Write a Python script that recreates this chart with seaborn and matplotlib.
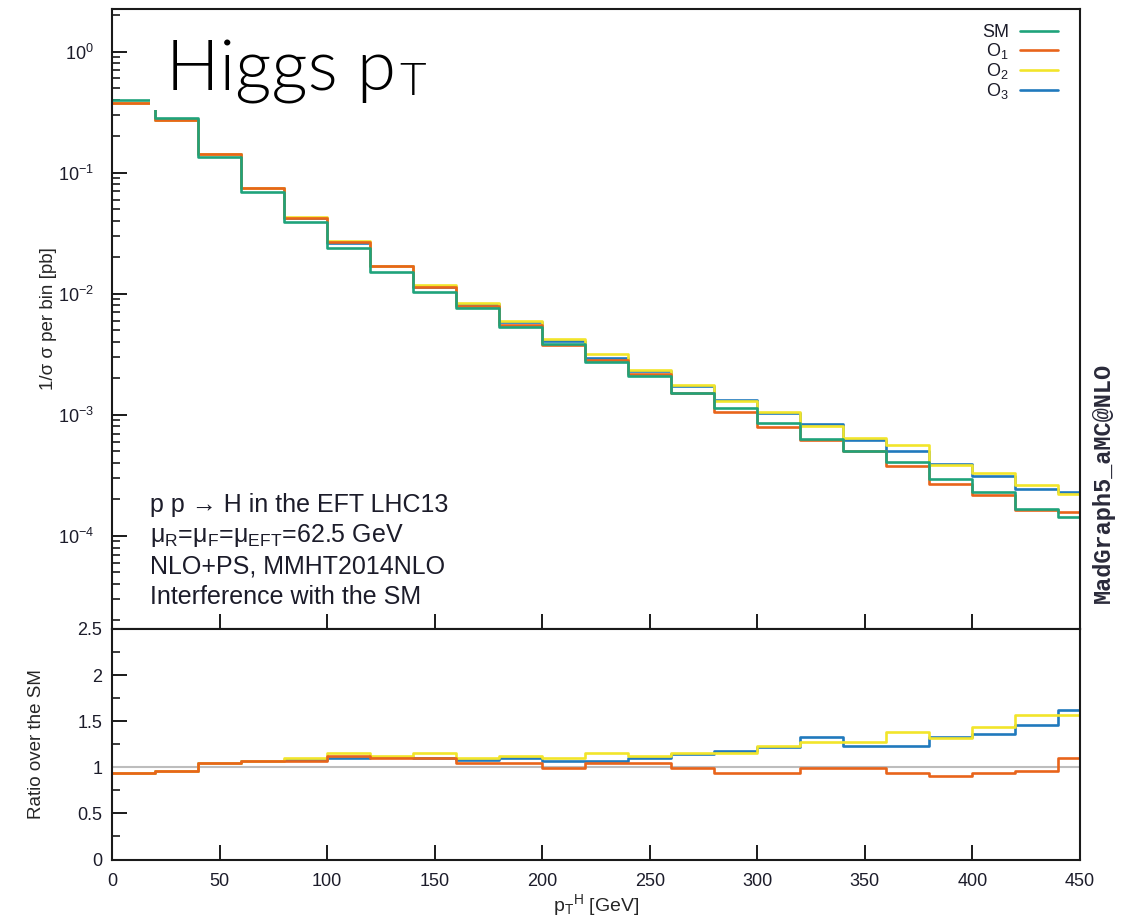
import numpy as np
import pandas as pd
import seaborn as sns
import matplotlib.pyplot as plt
from matplotlib.lines import Line2D
from matplotlib.patches import Rectangle
from matplotlib.ticker import MultipleLocator, LogLocator, NullFormatter, NullLocator, FormatStrFormatter

# Higgs pT binning [GeV]
bin_width = 20
bin_range = (0, 460)
bin_centers = np.arange(10, 460, 20)

# 1/sigma per bin, SM prediction
sm = [0.399, 0.283, 0.1356, 0.0697, 0.0394, 0.0237, 0.0152, 0.01027, 0.00757, 0.00527,
      0.00382, 0.00274, 0.00209, 0.00152, 0.00113, 0.00085, 0.000626, 0.000504, 0.000404,
      0.000294, 0.000231, 0.000168, 0.000142]

# ratio over the SM for each operator
ratio_o1 = [0.935, 0.964, 1.043, 1.072, 1.072, 1.127, 1.105, 1.105, 1.043, 1.043, 0.989, 1.043,
            1.043, 0.989, 0.935, 0.935, 0.996, 0.996, 0.935, 0.909, 0.935, 0.964, 1.098]
ratio_o2 = [0.935, 0.964, 1.043, 1.072, 1.098, 1.152, 1.123, 1.152, 1.098, 1.123, 1.098, 1.152,
            1.127, 1.152, 1.152, 1.232, 1.279, 1.279, 1.388, 1.315, 1.442, 1.569, 1.569]
ratio_o3 = [0.935, 0.964, 1.043, 1.072, 1.080, 1.105, 1.110, 1.100, 1.080, 1.105, 1.069, 1.069,
            1.105, 1.140, 1.178, 1.220, 1.333, 1.232, 1.232, 1.333, 1.359, 1.460, 1.623]

series_keys = ['SM', 'O1', 'O2', 'O3']
series_labels = ['SM', r'O$_\mathregular{1}$', r'O$_\mathregular{2}$', r'O$_\mathregular{3}$']
series_colors = ['#1fa37b', '#e8641b', '#f2e52a', '#2079bd']

info_lines = ['p p \u2192 H in the EFT LHC13',
              '\u03bc$_\\mathregular{R}$=\u03bc$_\\mathregular{F}$=\u03bc$_\\mathregular{EFT}$=62.5 GeV',
              'NLO+PS, MMHT2014NLO',
              'Interference with the SM']

sns.set_theme(style='ticks')
plt.rcParams['font.family'] = ['Liberation Sans', 'DejaVu Sans']
plt.rcParams['mathtext.fontset'] = 'custom'
plt.rcParams['mathtext.rm'] = 'Liberation Sans'
plt.rcParams['mathtext.it'] = 'Liberation Sans:italic'
plt.rcParams['axes.linewidth'] = 1.5
plt.rcParams['axes.edgecolor'] = '#1a1a1a'
plt.rcParams['text.color'] = '#1c1c2a'
plt.rcParams['xtick.color'] = '#1a1a1a'
plt.rcParams['ytick.color'] = '#1a1a1a'
plt.rcParams['xtick.labelcolor'] = '#1c1c2a'
plt.rcParams['ytick.labelcolor'] = '#1c1c2a'

df = pd.DataFrame({'pt': bin_centers, 'SM': sm})
df['O1'] = df['SM'] * np.array(ratio_o1)
df['O2'] = df['SM'] * np.array(ratio_o2)
df['O3'] = df['SM'] * np.array(ratio_o3)
df['R1'] = ratio_o1
df['R2'] = ratio_o2
df['R3'] = ratio_o3

W, H = 1124, 924
fig = plt.figure(figsize=(W / 100, H / 100), dpi=100)
ax_main = fig.add_axes([0.0996, 0.3193, 0.8612, 0.671])
ax_ratio = fig.add_axes([0.0996, 0.0698, 0.8612, 0.2495])

lw = 1.9
# draw SM last so it sits on top
for key, color in zip(series_keys[::-1], series_colors[::-1]):
    sns.histplot(data=df, x='pt', weights=key, binwidth=bin_width, binrange=bin_range,
                 element='step', fill=False, color=color, linewidth=lw, ax=ax_main)

ax_ratio.axhline(1.0, color='#bdbdbd', lw=1.5, zorder=1)
for key, color in zip(['R3', 'R2', 'R1'], [series_colors[3], series_colors[2], series_colors[1]]):
    sns.histplot(data=df, x='pt', weights=key, binwidth=bin_width, binrange=bin_range,
                 element='step', fill=False, color=color, linewidth=lw, ax=ax_ratio)

# main panel axes
ax_main.set_yscale('log')
ax_main.set_xlim(0, 450)
ax_main.set_ylim(1.7e-5, 2.25)
ax_main.yaxis.set_major_locator(LogLocator(base=10, numticks=12))
ax_main.yaxis.set_minor_locator(LogLocator(base=10, subs=np.arange(2, 10), numticks=40))
ax_main.yaxis.set_minor_formatter(NullFormatter())
ax_main.xaxis.set_major_locator(MultipleLocator(50))
ax_main.xaxis.set_minor_locator(NullLocator())
ax_main.tick_params(which='major', direction='in', length=10.8, width=1.4, labelsize=13,
                    top=False, right=False, labelbottom=False, pad=13)
ax_main.tick_params(which='minor', direction='in', length=5.4, width=1.2, top=False, right=False)
ax_main.set_xlabel('')
ax_main.set_ylabel('1/\u03c3 \u03c3 per bin [pb]', fontsize=13.5)
ax_main.yaxis.set_label_coords(-0.057, 0.5)

# ratio panel axes
ax_ratio.set_xlim(0, 450)
ax_ratio.set_ylim(0, 2.5)
ax_ratio.yaxis.set_major_locator(MultipleLocator(0.5))
ax_ratio.yaxis.set_minor_locator(MultipleLocator(0.25))
ax_ratio.yaxis.set_major_formatter(FormatStrFormatter('%g'))
ax_ratio.xaxis.set_major_locator(MultipleLocator(50))
ax_ratio.xaxis.set_minor_locator(NullLocator())
ax_ratio.tick_params(which='major', direction='in', length=10.8, width=1.4, labelsize=13,
                     top=False, right=False)
ax_ratio.tick_params(axis='y', which='major', pad=7)
ax_ratio.tick_params(axis='x', which='major', pad=10)
ax_ratio.tick_params(which='minor', direction='in', length=5.4, width=1.2, top=False, right=False)
ax_ratio.set_xlabel(r'p$_\mathregular{T}$$^\mathregular{H}$ [GeV]', fontsize=14, labelpad=1)
ax_ratio.set_ylabel('Ratio over the SM', fontsize=13.5)
ax_ratio.yaxis.set_label_coords(-0.069, 0.5)

for ax in (ax_main, ax_ratio):
    for s in ax.spines.values():
        s.set_visible(True)
        s.set_linewidth(1.5)

# legend: label first, line after
handles = [Line2D([], [], color=c, lw=lw) for c in series_colors]
ax_main.legend(handles, series_labels, loc='upper right', bbox_to_anchor=(0.977, 0.976),
               frameon=False, markerfirst=False, fontsize=13, handlelength=2.1,
               handletextpad=0.6, labelspacing=0.0, borderaxespad=0, borderpad=0)

# process description
for i, line in enumerate(info_lines):
    fig.text(150 / W, 1 - (505 + i * 30.7) / H, line, fontsize=18, va='center')

fig.text(0.9813, 0.4773, 'MadGraph5_aMC@NLO', rotation=90, ha='center', va='center',
         family='Liberation Mono', fontsize=17, fontweight='bold', color='#2a2a3a')

# white title box pasted over the top-left of the plot
fig.add_artist(Rectangle((150 / W, 1 - 110 / H), 310 / W, 99 / H, transform=fig.transFigure,
                         facecolor='white', edgecolor='none', zorder=5))
title = fig.text(166 / W, 1 - 90 / H, 'Higgs p', fontsize=51, family=['Lato', 'DejaVu Sans'],
                 fontweight=300, color='black', va='baseline', zorder=6)
renderer = fig.canvas.get_renderer()
bb = title.get_window_extent(renderer)
fig.text(bb.x1 / W + 0.003, 1 - 95 / H, 'T', fontsize=33, family=['Lato', 'DejaVu Sans'],
         fontweight=300, color='black', va='baseline', zorder=6)

fig.savefig('out.png', dpi=100)
